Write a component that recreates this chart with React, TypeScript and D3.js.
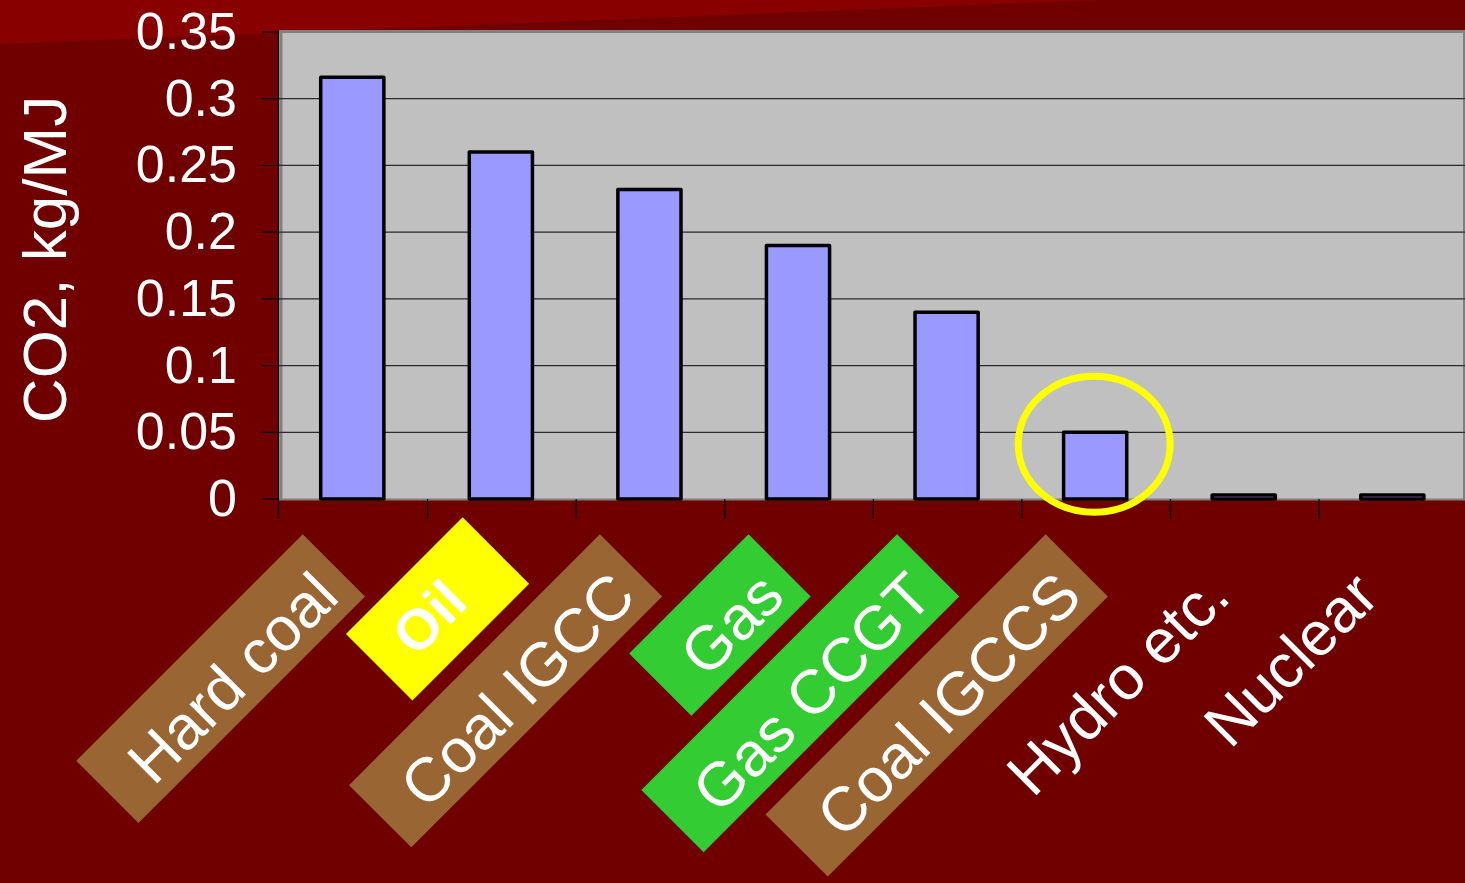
import React from "react";
import * as d3 from "d3";

const categories = ["Hard coal", "Oil", "Coal IGCC", "Gas", "Gas CCGT", "Coal IGCCS", "Hydro etc.", "Nuclear"];
const values = [0.316, 0.26, 0.232, 0.19, 0.14, 0.05, 0.003, 0.003];
const labelFills = ["#996633", "#ffff00", "#996633", "#33cc33", "#33cc33", "#996633", "", ""];
const labelBold = [false, true, false, false, false, false, false, false];
const yTicks = [0, 0.05, 0.1, 0.15, 0.2, 0.25, 0.3, 0.35];
const yTickLabels = ["0", "0.05", "0.1", "0.15", "0.2", "0.25", "0.3", "0.35"];
const highlighted = "Coal IGCCS";
const yTitle = "CO2, kg/MJ";

const W = 1465;
const H = 883;
const FONT = "'Liberation Sans', Arial, sans-serif";

function measure(text: string, size: number, bold: boolean): number {
  const c = document.createElement("canvas");
  const ctx = c.getContext("2d");
  if (!ctx) return text.length * size * 0.5;
  ctx.font = `${bold ? "bold " : ""}${size}px 'Liberation Sans', Arial, sans-serif`;
  return ctx.measureText(text).width;
}

export default function App() {
  const plot = { left: 279, right: 1467.6, top: 32, bottom: 499 };
  const x = d3.scaleBand<string>().domain(categories).range([plot.left, plot.right]).padding(0);
  const y = d3.scaleLinear().domain([0, 0.35]).range([plot.bottom, plot.top]);
  const bw = x.bandwidth();
  const barW = bw * 0.425;
  const labelSize = 62;
  const hiX = (x(highlighted) as number) + bw / 2 - 2;
  const hiVal = values[categories.indexOf(highlighted)];

  return (
    <svg
      width={W}
      height={H}
      style={{ position: "fixed", left: 0, top: 0, display: "block" }}
      fontFamily={FONT}
    >
      <rect x={0} y={0} width={W} height={H} fill="#700000" />
      <polygon points={`0,0 1100,0 0,44`} fill="#880000" />

      {/* plot area */}
      <rect x={plot.left} y={plot.top - 1} width={W - plot.left} height={plot.bottom - plot.top + 1} fill="#c0c0c0" />
      <line x1={plot.left} x2={W} y1={plot.top - 0.5} y2={plot.top - 0.5} stroke="#808080" strokeWidth={3} />
      <line x1={plot.left + 2} x2={plot.left + 2} y1={plot.top} y2={plot.bottom} stroke="#808080" strokeWidth={3} />
      <line x1={W - 1} x2={W - 1} y1={plot.top} y2={plot.bottom} stroke="#808080" strokeWidth={2} />

      {/* gridlines */}
      {yTicks.slice(1, -1).map((t) => (
        <line key={t} x1={plot.left} x2={W} y1={y(t)} y2={y(t)} stroke="#2a2a2a" strokeWidth={1.3} />
      ))}
      <line x1={plot.left} x2={W} y1={plot.bottom + 0.5} y2={plot.bottom + 0.5} stroke="#808080" strokeWidth={2} />

      {/* y axis */}
      <line x1={plot.left - 0.5} x2={plot.left - 0.5} y1={plot.top} y2={plot.bottom + 20} stroke="#000" strokeWidth={1.2} />
      {yTicks.map((t, i) => (
        <g key={t}>
          <line x1={plot.left - 17} x2={plot.left} y1={y(t)} y2={y(t)} stroke="#000" strokeWidth={1.2} />
          <text x={237} y={y(t) + 17} textAnchor="end" fill="#fff" fontSize={52}>
            {yTickLabels[i]}
          </text>
        </g>
      ))}
      <text
        transform={`translate(66, ${(y(0) + y(0.35)) / 2 - 6}) rotate(-90)`}
        textAnchor="middle"
        fill="#fff"
        fontSize={62}
      >
        {yTitle}
      </text>

      {/* x ticks */}
      {categories.map((c) => (
        <line
          key={c}
          x1={(x(c) as number) + bw}
          x2={(x(c) as number) + bw}
          y1={plot.bottom}
          y2={plot.bottom + 20}
          stroke="#000"
          strokeWidth={1.2}
        />
      ))}

      {/* bars */}
      {categories.map((c, i) => {
        const cx = (x(c) as number) + bw / 2 - 1;
        return (
          <rect
            key={c}
            x={cx - barW / 2}
            y={y(values[i])}
            width={barW}
            height={y(0) - y(values[i])}
            fill="#9999ff"
            stroke="#000"
            strokeWidth={3.5}
            strokeLinejoin="round"
          />
        );
      })}

      {/* highlight ellipse */}
      <ellipse
        cx={hiX}
        cy={y(hiVal) + 12}
        rx={76}
        ry={68}
        fill="none"
        stroke="#ffff00"
        strokeWidth={7}
      />

      {/* category labels */}
      {categories.map((c, i) => {
        const ax = (x(c) as number) + bw / 2 - 12;
        const ay = 599;
        const bold = labelBold[i];
        const size = bold ? 57 : labelSize;
        const tw = measure(c, size, bold);
        const shift = bold ? -18 : 0;
        const boxLen = Math.max(tw + 55, 165);
        const boxH = bold ? 94 : 88;
        const boxCx = bold ? -44 : -tw / 2 - 9;
        const boxCy = bold ? -30 : -29;
        return (
          <g key={c} transform={`translate(${ax}, ${ay}) rotate(-45)`}>
            {labelFills[i] && (
              <rect x={boxCx - boxLen / 2} y={boxCy - boxH / 2} width={boxLen} height={boxH} fill={labelFills[i]} />
            )}
            <text
              x={shift}
              y={bold ? -10 : 0}
              textAnchor="end"
              fill="#fff"
              fontSize={size}
              fontWeight={bold ? "bold" : "normal"}
            >
              {c}
            </text>
          </g>
        );
      })}
    </svg>
  );
}
